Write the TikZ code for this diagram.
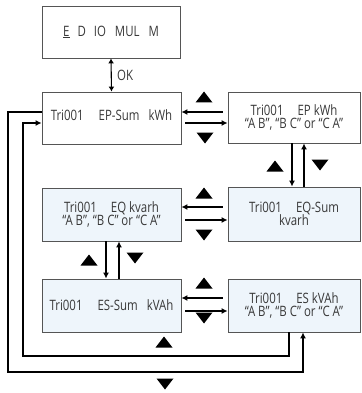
\documentclass[tikz,border=0pt]{standalone}
\usepackage{fontspec}
\setmainfont{Open Sans}[FakeStretch=0.8]
\usetikzlibrary{arrows.meta}
\definecolor{boxline}{HTML}{555555}
\definecolor{txt}{HTML}{383838}
\definecolor{lblue}{HTML}{EEF5FB}
\newcommand\tup[2]{\fill (#1-8.5,#2+5.5) -- (#1+8.5,#2+5.5) -- (#1,#2-5.5) -- cycle;}
\newcommand\tdn[2]{\fill (#1-8.5,#2-5.5) -- (#1+8.5,#2-5.5) -- (#1,#2+5.5) -- cycle;}
\begin{document}
\begin{tikzpicture}[x=1pt,y=-1pt,
  box/.style={draw=boxline,line width=0.9pt,inner sep=0pt,text=txt,align=center,
    font=\fontsize{14.3}{13.6}\selectfont},
  lbox/.style={box,minimum width=139pt},
  rbox/.style={box,minimum width=132pt},
  blue/.style={fill=lblue},
  arr/.style={line width=1.1pt,-{Latex[length=6pt,width=6pt]}},
  ln/.style={line width=1.1pt}]
\useasboundingbox (0,0) rectangle (361,393);
% boxes
\node[box,minimum width=138pt,minimum height=52pt] (top) at (111,32) {\underline{E}\hspace{8pt}D\hspace{8pt}IO\hspace{9pt}MUL\hspace{9pt}M};
\node[lbox,minimum height=52pt] (eps) at (111.5,118) {\raisebox{5pt}{Tri001\hspace{15pt}EP-Sum\hspace{9pt}kWh}};
\node[rbox,minimum height=51pt] (epk) at (294,117.5) {Tri001\hspace{14pt}EP kWh\\“A B”, “B C” or “C A”};
\node[lbox,blue,minimum height=53pt] (eqk) at (111.5,214.5) {Tri001\hspace{14pt}EQ kvarh\\“A B”, “B C” or “C A”};
\node[rbox,blue,minimum height=54pt] (eqs) at (294,214) {Tri001\hspace{14pt}EQ-Sum\\kvarh};
\node[lbox,blue,minimum height=53pt] (ess) at (111.5,305.5) {Tri001\hspace{15pt}ES-Sum\hspace{9pt}kVAh};
\node[rbox,blue,minimum height=53pt] (esk) at (294,305.5) {Tri001\hspace{14pt}ES kVAh\\“A B”, “B C” or “C A”};
% top link
\draw[line width=1.1pt,{Latex[length=5pt,width=6pt]}-{Latex[length=5pt,width=6pt]}] (top.south) -- (eps.north)
  node[midway,right=2pt,text=txt,font=\fontsize{14.3}{13.6}\selectfont] (ok) {OK};
% row 1 horizontal
\draw[arr,shorten <=5pt] (epk.west |- 0,112) -- (eps.east |- 0,112);
\draw[arr,shorten <=4pt] (eps.east |- 0,123) -- (epk.west |- 0,123);
% row 2 horizontal
\draw[arr,shorten <=5pt] (eqs.west |- 0,207) -- (eqk.east |- 0,207);
\draw[arr,shorten <=4pt] (eqk.east |- 0,220) -- (eqs.west |- 0,220);
% row 3 horizontal
\draw[arr,shorten <=5pt] (esk.west |- 0,298) -- (ess.east |- 0,298);
\draw[arr,shorten <=4pt] (ess.east |- 0,311) -- (esk.west |- 0,311);
% vertical right (row1-row2)
\draw[arr] (epk.south -| 292,0) -- (eqs.north -| 292,0);
\draw[arr] (eqs.north -| 304,0) -- (epk.south -| 304,0);
% vertical left (row2-row3)
\draw[arr] (eqk.south -| 106,0) -- (ess.north -| 106,0);
\draw[arr] (ess.north -| 119,0) -- (eqk.south -| 119,0);
% loops
\draw[arr] (eps.west |- 0,112) -| (8,372) -| (esk.south -| 303,0);
\draw[arr] (esk.south -| 289,0) |- (23,356) |- (eps.west |- 0,123);
% triangles
\tup{204}{97}
\tdn{205}{138}
\tup{204}{193}
\tdn{204}{235}
\tup{204}{283}
\tdn{204}{318}
\tup{275}{166}
\tdn{320}{165}
\tup{89}{260}
\tdn{135}{258}
\tup{164}{342}
\tdn{165}{384}
\end{tikzpicture}
\end{document}
